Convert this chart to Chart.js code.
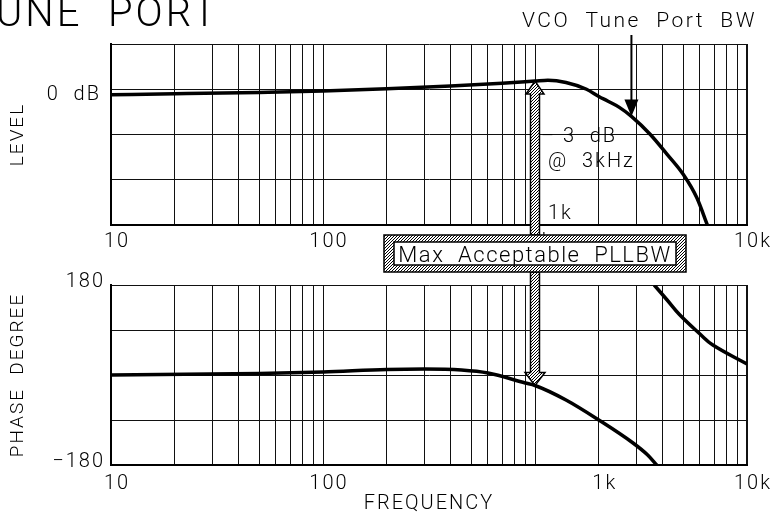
<!DOCTYPE html>
<html>
<head>
<meta charset="utf-8">
<script src="https://cdn.jsdelivr.net/npm/chart.js@4.4.1/dist/chart.umd.min.js"></script>
<style>
  html, body { margin: 0; padding: 0; background: #fff; }
  #wrap { position: relative; width: 776px; height: 516px; }
  #wrap canvas { position: absolute; left: 0; top: 0; }
</style>
</head>
<body>
<div id="wrap">
  <canvas id="phaseChart" width="776" height="516"></canvas>
  <canvas id="levelChart" width="776" height="516"></canvas>
</div>
<script>
// level response of the tune port (dB)
const levelFreq = [10, 20, 50, 100, 200, 400, 700, 1000, 1150, 1400, 1750, 2000, 2200, 2500, 2850, 3500, 4200, 5000, 5800, 6500];
const levelDb = [-0.6, -0.5, -0.35, -0.2, 0.05, 0.35, 0.65, 0.9, 1.0, 0.75, 0.0, -0.8, -1.3, -2.0, -3.0, -5.0, -7.2, -9.4, -12.0, -15.0];

// phase response (degrees), wraps at -180
const phaseFreq = [10, 50, 100, 200, 300, 450, 600, 900, 1000, 1400, 2000, 2900, 3400, 3750];
const phaseDeg = [0, 3, 6, 11, 12, 10, 4, -16, -21, -50, -90, -136, -160, -180];
const wrapFreq = [3650, 4200, 4800, 6000, 6900, 10000];
const wrapDeg = [180, 150, 121, 82, 60, 22];

// axis labels
const topTickFreqs = [10, 100, 1000, 10000];
const bottomTickFreqs = [10, 100, 2000, 10000];
const freqTickLabels = ['10', '100', '1k', '10k'];

const markerFreq = 1000;   // max acceptable PLL BW
const bwFreq = 2850;       // VCO tune port -3 dB point
const bwLevel = -3;

const FONT = 'Roboto, "DejaVu Sans", sans-serif';
Chart.defaults.font.family = FONT;
Chart.defaults.font.weight = 300;
Chart.defaults.color = '#000';

const gridFreqs = [];
[10, 100, 1000].forEach(d => { for (let m = 1; m < 10; m++) gridFreqs.push(m * d); });
gridFreqs.push(10000);

function pts(xs, ys) { return xs.map((x, i) => ({ x: x, y: ys[i] })); }
function labelMap(freqs) { const m = {}; freqs.forEach((f, i) => { m[f] = freqTickLabels[i]; }); return m; }

function freqAxis(freqs, pad, height, title) {
  const labels = labelMap(freqs);
  return {
    type: 'logarithmic', min: 10, max: 10000,
    afterBuildTicks: s => { s.ticks = gridFreqs.map(v => ({ value: v })); },
    afterFit: s => { s.height = height; },
    ticks: { autoSkip: false, maxRotation: 0, padding: pad, labelOffset: 6,
             font: { size: 20 }, callback: v => labels[v] || '' },
    grid: { color: '#111', drawTicks: false, lineWidth: c => (c.tick && c.tick.value === 10000 ? 2 : 1) },
    border: { color: '#000', width: 2 },
    title: title ? { display: true, text: title, font: { size: 20 }, padding: { bottom: 0 } } : { display: false }
  };
}

function spacing(px) {
  return { id: 'spacing' + px, beforeUpdate: c => { c.ctx.letterSpacing = px + 'px'; },
           beforeDraw: c => { c.ctx.letterSpacing = px + 'px'; } };
}

const lineStyle = { borderColor: '#000', borderWidth: 3.5, pointRadius: 0, fill: false, cubicInterpolationMode: 'monotone' };

const phaseChart = new Chart(document.getElementById('phaseChart'), {
  type: 'line',
  data: { datasets: [
    Object.assign({ label: 'Phase', data: pts(phaseFreq, phaseDeg) }, lineStyle),
    Object.assign({}, lineStyle, { label: 'Phase (wrapped)', data: pts(wrapFreq, wrapDeg), cubicInterpolationMode: 'default', tension: 0.4 })
  ] },
  options: {
    responsive: false, animation: false, events: [],
    layout: { padding: { left: 0, top: 285, right: 29, bottom: 0 } },
    plugins: { legend: { display: false }, tooltip: { enabled: false } },
    scales: {
      x: freqAxis(bottomTickFreqs, 7, 51, 'FREQUENCY'),
      y: {
        min: -180, max: 180,
        afterFit: s => { s.width = 111; },
        ticks: { stepSize: 90, padding: 6, labelOffset: -3, font: { size: 20 },
                 callback: v => (v === 180 ? '180' : v === -180 ? '\u2212180' : '') },
        grid: { color: '#111', drawTicks: false },
        border: { color: '#000', width: 2 },
        title: { display: true, text: 'PHASE  DEGREE', font: { size: 19 }, padding: { top: 7 } }
      }
    }
  },
  plugins: [spacing(2)]
});

let hatch = null;
function hatchPattern(ctx) {
  if (hatch) return hatch;
  const tile = document.createElement('canvas');
  tile.width = tile.height = 3;
  const t = tile.getContext('2d');
  t.fillStyle = '#fff'; t.fillRect(0, 0, 3, 3);
  t.strokeStyle = '#000'; t.lineWidth = 1;
  t.beginPath();
  t.moveTo(0, 3); t.lineTo(3, 0);
  t.moveTo(-1, 1); t.lineTo(1, -1);
  t.moveTo(2, 4); t.lineTo(4, 2);
  t.stroke();
  hatch = ctx.createPattern(tile, 'repeat');
  return hatch;
}

const annotations = {
  id: 'annotations',
  afterDraw(chart) {
    const ctx = chart.ctx;
    const xs = chart.scales.x, ys = chart.scales.y;
    const yb = phaseChart.scales.y;
    ctx.save();
    ctx.fillStyle = '#000'; ctx.strokeStyle = '#000';
    ctx.textBaseline = 'alphabetic';

    // heading, cut at the left edge
    ctx.letterSpacing = '3px';
    ctx.font = '300 40px ' + FONT;
    ctx.textAlign = 'left';
    ctx.fillText('UNE  PORT', -4, 26);

    // VCO tune port BW callout
    ctx.letterSpacing = '2.5px';
    ctx.font = '300 21px ' + FONT;
    ctx.textAlign = 'right';
    ctx.fillText('VCO  Tune  Port  BW', 757, 27);
    const bx = xs.getPixelForValue(bwFreq);
    const by = ys.getPixelForValue(bwLevel);
    ctx.lineWidth = 2;
    ctx.beginPath(); ctx.moveTo(bx, 35); ctx.lineTo(bx, by - 15); ctx.stroke();
    ctx.beginPath(); ctx.moveTo(bx - 7, by - 17); ctx.lineTo(bx + 7, by - 17); ctx.lineTo(bx, by); ctx.closePath(); ctx.fill();

    // hatched double arrow at the max PLL bandwidth
    const mx = xs.getPixelForValue(markerFreq);
    const upTip = ys.getPixelForValue(levelDb[levelFreq.indexOf(markerFreq)]);
    const downTip = yb.getPixelForValue(phaseDeg[phaseFreq.indexOf(markerFreq)]);
    const boxTop = 235, boxBot = 272;
    const hw = 4.5, hh = 9, head = 13;
    ctx.fillStyle = hatchPattern(ctx);
    ctx.lineWidth = 1.5;
    ctx.beginPath();
    ctx.moveTo(mx - hw, boxTop); ctx.lineTo(mx - hw, upTip + head); ctx.lineTo(mx - hh, upTip + head);
    ctx.lineTo(mx, upTip); ctx.lineTo(mx + hh, upTip + head); ctx.lineTo(mx + hw, upTip + head);
    ctx.lineTo(mx + hw, boxTop); ctx.closePath();
    ctx.fill(); ctx.stroke();
    ctx.beginPath();
    ctx.moveTo(mx - hw, boxBot); ctx.lineTo(mx - hw, downTip - head); ctx.lineTo(mx - hh - 1, downTip - head);
    ctx.lineTo(mx, downTip); ctx.lineTo(mx + hh + 1, downTip - head); ctx.lineTo(mx + hw, downTip - head);
    ctx.lineTo(mx + hw, boxBot); ctx.closePath();
    ctx.fill(); ctx.stroke();

    // label box
    ctx.fillRect(mx - 151, boxTop, 302, boxBot - boxTop);
    ctx.strokeRect(mx - 151, boxTop, 302, boxBot - boxTop);
    ctx.fillStyle = '#fff';
    ctx.fillRect(mx - 141, boxTop + 7, 282, boxBot - boxTop - 14);
    ctx.strokeRect(mx - 141, boxTop + 7, 282, boxBot - boxTop - 14);
    ctx.fillStyle = '#000';
    ctx.textAlign = 'center';
    ctx.font = '300 22px ' + FONT;
    ctx.letterSpacing = '1.5px';
    ctx.fillText('Max  Acceptable  PLLBW', mx, boxBot - 10);

    // notes beside the arrow
    ctx.letterSpacing = '2px';
    ctx.textAlign = 'left';
    ctx.font = '300 20px ' + FONT;
    ctx.fillText('\u2013 3  dB', mx + 6, 142);
    ctx.fillText('@  3kHz', mx + 13, 167);
    ctx.fillText('1k', mx + 13, 219);
    ctx.restore();
  }
};

new Chart(document.getElementById('levelChart'), {
  type: 'line',
  data: { datasets: [Object.assign({ label: 'Level', data: pts(levelFreq, levelDb) }, lineStyle)] },
  options: {
    responsive: false, animation: false, events: [],
    layout: { padding: { left: 0, top: 44, right: 29, bottom: 251 } },
    plugins: { legend: { display: false }, tooltip: { enabled: false } },
    scales: {
      x: freqAxis(topTickFreqs, 5, 40, null),
      y: {
        min: -15, max: 5,
        afterFit: s => { s.width = 111; },
        ticks: { stepSize: 5, padding: 10, labelOffset: 6, font: { size: 20 },
                 callback: v => (v === 0 ? '0  dB' : '') },
        grid: { color: '#111', drawTicks: false },
        border: { color: '#000', width: 2 },
        title: { display: true, text: 'LEVEL', font: { size: 19 }, padding: { top: 7 } }
      }
    }
  },
  plugins: [spacing(2), annotations]
});
</script>
</body>
</html>
